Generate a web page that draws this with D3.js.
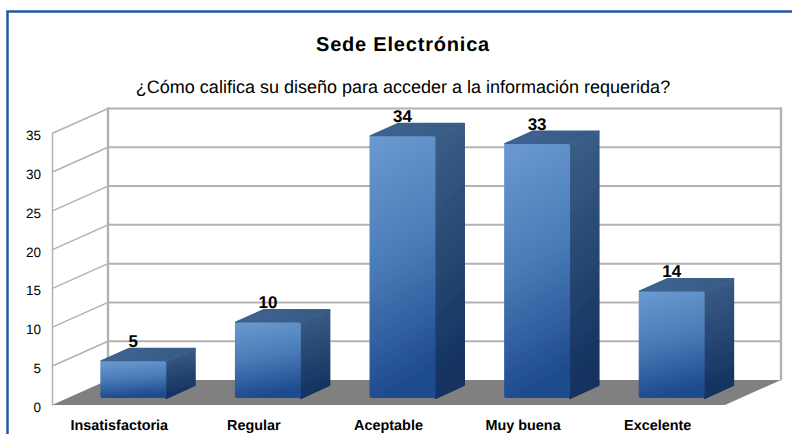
<!DOCTYPE html>
<html>
<head>
<meta charset="utf-8">
<script src="https://d3js.org/d3.v7.min.js"></script>
<style>
  html, body { margin: 0; padding: 0; background: #fff; overflow: hidden; }
  text { font-family: "Liberation Sans", Arial, sans-serif; fill: #000; text-rendering: geometricPrecision; }
</style>
</head>
<body>
<script>
// chart data
var categories = ["Insatisfactoria", "Regular", "Aceptable", "Muy buena", "Excelente"];
var values = [5, 10, 34, 33, 14];
var yTicks = [0, 5, 10, 15, 20, 25, 30, 35];
var title = "Sede Electrónica";
var subtitle = "¿Cómo califica su diseño para acceder a la información requerida?";

var width = 792, height = 434;

// front plane of the 3d box, and how far the back wall is shifted
var plot = {left: 52, right: 725, top: 133.5, bottom: 405};
var wall = {dx: 56, dy: -25};
var bar = {dx: 29, dy: -13, shiftX: 14, shiftY: -5, foot: 2};

var svg = d3.select("body").append("svg")
    .attr("width", width)
    .attr("height", height);

var x = d3.scaleBand()
    .domain(categories)
    .range([plot.left, plot.right])
    .paddingInner(0.51)
    .paddingOuter(0.255);

var y = d3.scaleLinear()
    .domain([0, 35])
    .range([plot.bottom, plot.top]);

// gradients for the three faces of a bar
var defs = svg.append("defs");
function gradient(id, x2, y2, stops) {
  var g = defs.append("linearGradient").attr("id", id)
      .attr("x1", 0).attr("y1", 0).attr("x2", x2).attr("y2", y2);
  stops.forEach(function(s) {
    g.append("stop").attr("offset", s[0]).attr("stop-color", s[1]);
  });
}
gradient("front", 0.15, 1, [[0, "#6b9ad0"], [0.5, "#4a7cb8"], [1, "#1f4b8e"]]);
gradient("side", 0.1, 1, [[0, "#3d6088"], [1, "#12305f"]]);
gradient("top", 1, 0, [[0, "#3f6595"], [1, "#36597f"]]);

// the bars in the reference have soft edges
defs.append("filter").attr("id", "soft")
  .append("feGaussianBlur").attr("stdDeviation", 0.5);

function line(points) {
  return "M" + points.map(function(p) { return p.join(","); }).join("L");
}

// blue frame, open on the right and at the bottom
svg.append("path")
    .attr("d", line([[7.5, height], [7.5, 11.5], [width, 11.5]]))
    .attr("fill", "none")
    .attr("stroke", "#1f5b9a")
    .attr("stroke-width", 2.5);

// floor
svg.append("path")
    .attr("d", line([
      [plot.left, y(0)],
      [plot.left + wall.dx, y(0) + wall.dy],
      [plot.right + wall.dx, y(0) + wall.dy],
      [plot.right, y(0)]
    ]) + "Z")
    .attr("fill", "#808080");

// grid lines: left wall then back wall
var grid = svg.append("g").attr("fill", "none").attr("stroke", "#b2b2b2");

grid.selectAll(".side")
    .data(yTicks.slice(1))
  .enter().append("path")
    .attr("class", "side")
    .attr("stroke-width", 1.5)
    .attr("d", function(d) {
      return line([[plot.left, y(d)], [plot.left + wall.dx, y(d) + wall.dy]]);
    });

grid.selectAll(".back")
    .data(yTicks.slice(1))
  .enter().append("path")
    .attr("class", "back")
    .attr("stroke-width", 2)
    .attr("d", function(d) {
      return line([[plot.left + wall.dx, y(d) + wall.dy], [plot.right + wall.dx, y(d) + wall.dy]]);
    });

// vertical edges of the walls
[plot.left + wall.dx, plot.right + wall.dx].forEach(function(px) {
  grid.append("path")
      .attr("stroke-width", 2.4)
      .attr("d", line([[px, y(35) + wall.dy - 1], [px, y(0) + wall.dy]]));
});

// y axis on the front left edge
var yAxis = d3.axisLeft(y).tickValues(yTicks).tickSize(0).tickPadding(11);
var axisG = svg.append("g")
    .attr("transform", "translate(" + plot.left + ",0)")
    .call(yAxis);
axisG.select(".domain").attr("stroke", "#b2b2b2").attr("stroke-width", 1.5);
axisG.selectAll("text")
    .attr("y", 2)
    .style("font-family", '"Liberation Sans"')
    .style("font-size", "13.5px")
    .style("fill", "#000");

// bars
var bars = svg.selectAll(".bar")
    .data(values)
  .enter().append("g")
    .attr("class", "bar");

function barBox(d, i) {
  var left = x(categories[i]) + bar.shiftX;
  return {
    left: left,
    right: left + x.bandwidth(),
    top: y(d) + bar.shiftY,
    bottom: y(0) + bar.shiftY - bar.foot
  };
}

// side face
bars.append("path")
    .attr("filter", "url(#soft)")
    .attr("fill", "url(#side)")
    .attr("stroke", "url(#side)")
    .attr("stroke-linejoin", "round")
    .attr("stroke-width", 2)
    .attr("d", function(d, i) {
      var b = barBox(d, i);
      return line([
        [b.right, b.top],
        [b.right + bar.dx - 0.5, b.top + bar.dy + 0.5],
        [b.right + bar.dx - 0.5, b.bottom + bar.dy],
        [b.right, b.bottom]
      ]) + "Z";
    });

// top face
bars.append("path")
    .attr("filter", "url(#soft)")
    .attr("fill", "url(#top)")
    .attr("stroke", "#3b6089")
    .attr("stroke-linejoin", "round")
    .attr("stroke-width", 2)
    .attr("d", function(d, i) {
      var b = barBox(d, i);
      return line([
        [b.left + 1, b.top],
        [b.left + bar.dx, b.top + bar.dy + 0.5],
        [b.right + bar.dx - 0.5, b.top + bar.dy + 0.5],
        [b.right, b.top]
      ]) + "Z";
    });

// front face
bars.append("rect")
    .attr("filter", "url(#soft)")
    .attr("x", function(d, i) { return barBox(d, i).left; })
    .attr("y", function(d, i) { return barBox(d, i).top; })
    .attr("width", x.bandwidth())
    .attr("height", function(d, i) { var b = barBox(d, i); return b.bottom - b.top; })
    .attr("rx", 2)
    .attr("fill", "url(#front)");

// value labels
bars.append("text")
    .attr("x", function(d, i) { return x(categories[i]) + x.bandwidth() / 2 + bar.shiftX; })
    .attr("y", function(d) { return y(d) + bar.shiftY + bar.dy - 1; })
    .attr("text-anchor", "middle")
    .style("font-size", "17px")
    .style("font-weight", "bold")
    .text(function(d) { return d; });

// category labels
svg.selectAll(".cat")
    .data(categories)
  .enter().append("text")
    .attr("class", "cat")
    .attr("x", function(d) { return x(d) + x.bandwidth() / 2; })
    .attr("y", 430)
    .attr("text-anchor", "middle")
    .style("font-size", "14.4px")
    .style("font-weight", "bold")
    .text(function(d) { return d; });

// titles
svg.append("text")
    .attr("x", 403)
    .attr("y", 51)
    .attr("text-anchor", "middle")
    .style("font-size", "20px")
    .style("font-weight", "bold")
    .style("letter-spacing", "0.8px")
    .text(title);

svg.append("text")
    .attr("x", 403)
    .attr("y", 93)
    .attr("text-anchor", "middle")
    .style("font-size", "18px")
    .text(subtitle);
</script>
</body>
</html>
